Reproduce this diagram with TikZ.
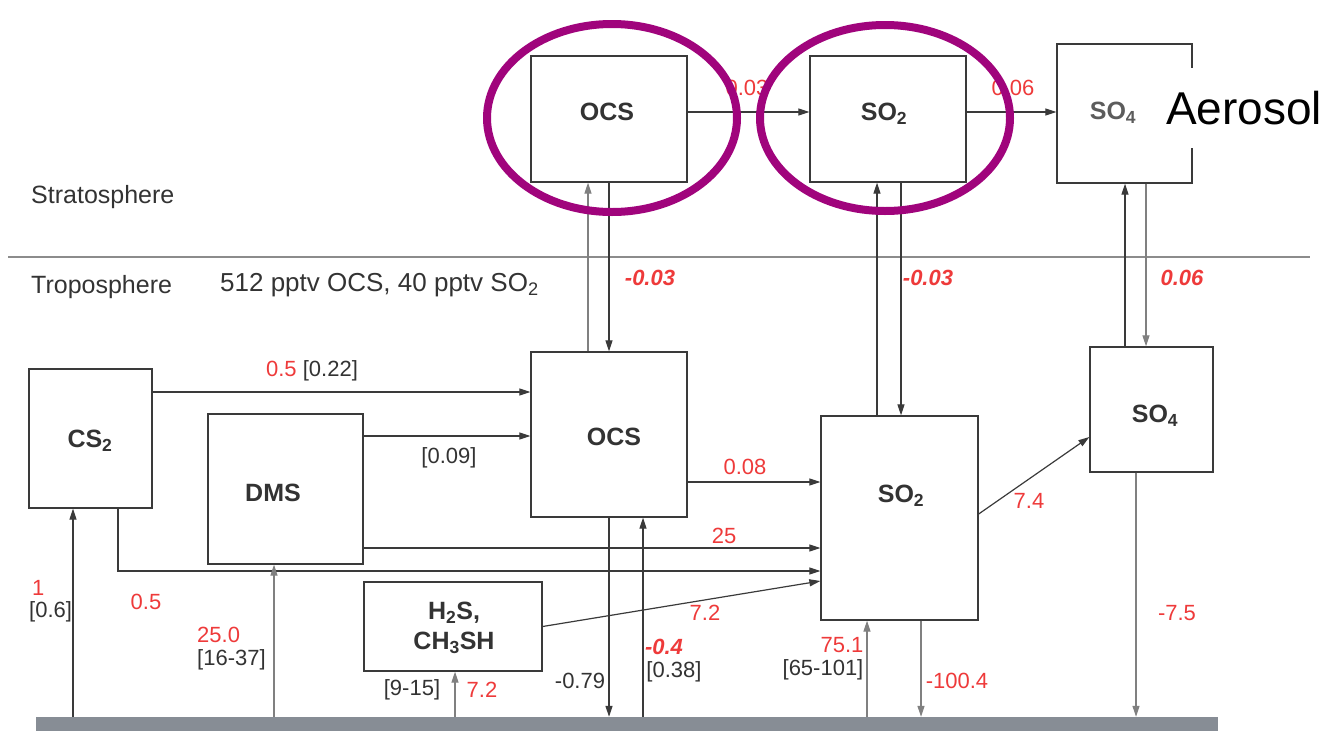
\documentclass[tikz,border=0pt]{standalone}
\usepackage{fontspec}
\setmainfont{Liberation Sans}
\usetikzlibrary{arrows.meta,calc}
\definecolor{txt}{HTML}{333333}
\definecolor{rd}{HTML}{EE3A3A}
\definecolor{lnc}{HTML}{3A3A3A}
\definecolor{grnd}{HTML}{878D95}
\definecolor{purp}{HTML}{A0047C}
\begin{document}
\begin{tikzpicture}[x=1pt,y=-1pt,
 box/.style={draw=lnc,line width=1.3pt,inner sep=0pt,fill=white},
 lbl/.style={font=\fontsize{25}{27}\selectfont\bfseries,text=txt,inner sep=0pt,align=center},
 num/.style={font=\fontsize{22}{24}\selectfont,text=rd,inner sep=0pt},
 blk/.style={font=\fontsize{22}{24}\selectfont,text=txt,inner sep=0pt},
 bnum/.style={font=\fontsize{22}{24}\selectfont\bfseries\itshape,text=rd,inner sep=0pt},
 reg/.style={font=\fontsize{25}{27}\selectfont,text=txt,inner sep=0pt},
 arr/.style={draw=lnc,line width=1.2pt,-{Triangle[length=11pt,width=7pt]}},
 plain/.style={draw=lnc,line width=1.2pt},
 ring/.style={draw=purp,line width=8pt}]
\useasboundingbox (0,0) rectangle (1330,731);

% boxes
\node[box,minimum width=156,minimum height=126] (ocsT) at (609,119) {};
\node[box,minimum width=156,minimum height=126] (so2T) at (888,119) {};
\node[box,minimum width=135,minimum height=139] (so4T) at (1124.5,113.5) {};
\node[box,minimum width=156,minimum height=165] (ocsL) at (609,434.5) {};
\node[box,minimum width=157,minimum height=204] (so2L) at (899.5,518) {};
\node[box,minimum width=123,minimum height=125] (so4L) at (1151.5,409.5) {};
\node[box,minimum width=123,minimum height=139] (cs2) at (90.5,438.5) {};
\node[box,minimum width=155,minimum height=150] (dms) at (285.5,489) {};
\node[box,minimum width=178,minimum height=89] (h2s) at (453,626.5) {};
\node[fill=grnd,minimum width=1182,minimum height=14,inner sep=0pt] (gnd) at (627,724) {};

% box labels
\node[lbl] (tOcsT) at (607,112) {OCS};
\node[lbl] (tSo2T) at (884,114) {SO\textsubscript{2}};
\node[lbl,text=txt!80] (tSo4T) at (1113,113) {SO\textsubscript{4}};
\node[lbl] (tOcsL) at (614,437) {OCS};
\node[lbl] (tSo2L) at (901,496) {SO\textsubscript{2}};
\node[lbl] (tSo4L) at (1155,416) {SO\textsubscript{4}};
\node[lbl] (tCs2) at (90,441) {CS\textsubscript{2}};
\node[lbl] (tDms) at (273,493) {DMS};
\node[lbl,font=\fontsize{25}{30}\selectfont\bfseries] (tH2s) at (454,628) {H\textsubscript{2}S,\\CH\textsubscript{3}SH};

% layer labels
\draw[draw=gray!90,line width=1.2pt] (8,257) -- (1310,257);
\node[reg,anchor=west] (strat) at (31,197) {Stratosphere};
\node[reg,anchor=west] (trop) at (31,287) {Troposphere};
\node[reg,anchor=west,font=\fontsize{26}{28}\selectfont] (conc) at (220,285) {512 pptv OCS, 40 pptv SO\textsubscript{2}};

% stratosphere chain
\draw[arr] (ocsT.east |- 0,112) -- (so2T.west |- 0,112);
\draw[arr] (so2T.east |- 0,112) -- (so4T.west |- 0,112);
\node[num] (l003) at (747,88) {0.03};
\node[num] (l006) at (1013,88) {0.06};

% strat-trop exchange
\draw[arr,draw=gray] (ocsL.north -| 588,0) -- (ocsT.south -| 588,0);
\draw[arr] (ocsT.south -| 609,0) -- (ocsL.north -| 609,0);
\draw[arr] (so2L.north -| 877,0) -- (so2T.south -| 877,0);
\draw[arr] (so2T.south -| 901,0) -- (so2L.north -| 901,0);
\draw[arr] (so4L.north -| 1125,0) -- (so4T.south -| 1125,0);
\draw[arr,draw=gray] (so4T.south -| 1146,0) -- (so4L.north -| 1146,0);
\node[bnum] (e1) at (650,278) {-0.03};
\node[bnum] (e2) at (928,278) {-0.03};
\node[bnum] (e3) at (1182,278) {0.06};

% tropospheric fluxes
\draw[arr] (cs2.east |- 0,392) -- (ocsL.west |- 0,392);
\node[blk] (f1) at (312,371) {\textcolor{rd}{0.5} [0.22]};
\draw[arr] (dms.east |- 0,436) -- (ocsL.west |- 0,436);
\node[blk] (f2) at (449,458) {[0.09]};
\draw[arr] (ocsL.east |- 0,482) -- (so2L.west |- 0,482);
\node[num] (f3) at (745,467) {0.08};
\draw[arr] (dms.east |- 0,548) -- (so2L.west |- 0,548);
\node[num] (f4) at (724,536) {25};
\draw[arr] (cs2.south -| 118,0) |- (so2L.west |- 0,571);
\node[num] (f5) at (146,602) {0.5};
\draw[arr] (h2s.east) -- (so2L.west |- 0,581);
\node[num] (f6) at (705,613) {7.2};
\draw[arr] (so2L.east |- 0,514) -- (so4L.west |- 0,437);
\node[num] (f7) at (1029,501) {7.4};

% surface fluxes
\draw[arr] (gnd.north -| 73,0) -- (cs2.south -| 73,0);
\node[num,anchor=west] (s1a) at (32,588) {1};
\node[blk,anchor=west] (s1b) at (29,612) {[0.6]};
\draw[arr,draw=gray] (gnd.north -| 274,0) -- (dms.south -| 274,0);
\node[num,anchor=west] (s2a) at (197,635) {25.0};
\node[blk,anchor=west] (s2b) at (197,660) {[16-37]};
\draw[arr,draw=gray] (gnd.north -| 455,0) -- (h2s.south -| 455,0);
\node[blk] (s3a) at (412,690) {[9-15]};
\node[num] (s3b) at (482,690) {7.2};
\draw[arr] (ocsL.south -| 609,0) -- (gnd.north -| 609,0);
\node[blk] (s4) at (580,681) {-0.79};
\draw[arr] (gnd.north -| 643,0) -- (ocsL.south -| 643,0);
\node[bnum] (s5a) at (664,647) {-0.4};
\node[blk] (s5b) at (674,672) {[0.38]};
\draw[arr,draw=gray] (gnd.north -| 867,0) -- (so2L.south -| 867,0);
\node[num] (s6a) at (842,645) {75.1};
\node[blk] (s6b) at (823,670) {[65-101]};
\draw[arr,draw=gray] (so2L.south -| 921,0) -- (gnd.north -| 921,0);
\node[num] (s7) at (957,681) {-100.4};
\draw[arr,draw=gray] (so4L.south -| 1136,0) -- (gnd.north -| 1136,0);
\node[num] (s8) at (1177,613) {-7.5};

% highlight rings
\draw[ring] (612,118) ellipse [x radius=125pt, y radius=94pt];
\draw[ring] (885,118) ellipse [x radius=125pt, y radius=93pt];

% Aerosol
\node[fill=white,inner sep=3pt,minimum height=80,anchor=west,font=\fontsize{46}{50}\selectfont] (aer) at (1163,108) {Aerosol};
\end{tikzpicture}
\end{document}
